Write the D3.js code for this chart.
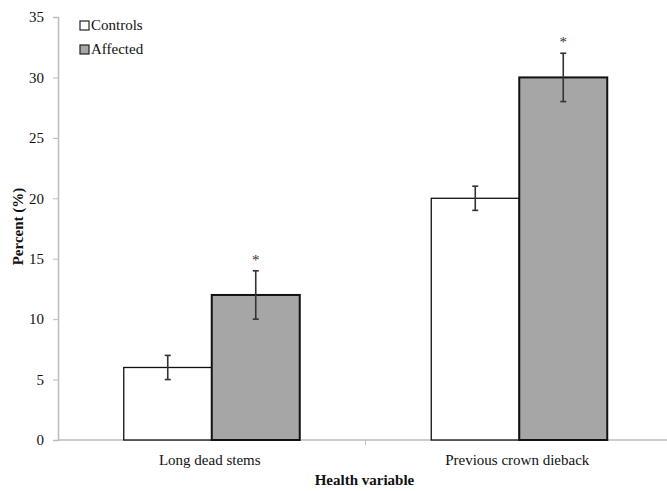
<!DOCTYPE html>
<html>
<head>
<meta charset="utf-8">
<script src="https://cdn.jsdelivr.net/npm/d3@7"></script>
<style>
  body { margin: 0; background: #fff; }
  svg text { font-family: "Times New Roman", "Liberation Serif", "DejaVu Serif", serif !important; }
</style>
</head>
<body>
<div id="Container"></div>
<script>
var categories = ["Long dead stems", "Previous crown dieback"];
var series = ["Controls", "Affected"];
var controls = [6, 20];
var affected = [12, 30];
var controlsErr = [1, 1];
var affectedErr = [2, 2];
var signif = [true, true];   // asterisk above affected bar
var yTicks = [0, 5, 10, 15, 20, 25, 30, 35];

var fills = { Controls: "#ffffff", Affected: "#a6a6a6" };

var margin = { top: 17, right: 0, bottom: 51, left: 58 },
    W = 667, H = 491,
    w = W - margin.left - margin.right,
    h = H - margin.top - margin.bottom;

var canvas = d3.select("#Container").append("svg")
    .attr("width", W)
    .attr("height", H);
var svg = canvas.append("g")
    .attr("transform", "translate(" + margin.left + "," + margin.top + ")");

var x = d3.scaleBand()
    .domain(categories)
    .range([0, w + 6]);
var x1 = d3.scaleBand()
    .domain(series)
    .range([0, 176])
    .padding(0);
var y = d3.scaleLinear()
    .domain([0, 35])
    .range([h, 0]);

var data = categories.map(function (c, i) {
    return {
        cat: c,
        vals: [
            { s: "Controls", v: controls[i], e: controlsErr[i], star: false },
            { s: "Affected", v: affected[i], e: affectedErr[i], star: signif[i] }
        ]
    };
});

// y axis
var yax = svg.append("g")
    .attr("class", "yax")
    .call(d3.axisLeft(y).tickValues(yTicks).tickSize(5).tickPadding(9));
yax.attr("font-family", null);
yax.select(".domain").attr("stroke", "#bdbdbd").attr("stroke-width", 1.5);
yax.selectAll(".tick line").attr("stroke", "#bdbdbd");
yax.selectAll("text").attr("font-size", 15).attr("fill", "#111");

// x axis line + middle tick
svg.append("line")
    .attr("x1", 0).attr("x2", w)
    .attr("y1", h).attr("y2", h)
    .attr("stroke", "#bdbdbd").attr("stroke-width", 1.5);
svg.append("line")
    .attr("x1", x(categories[1])).attr("x2", x(categories[1]))
    .attr("y1", h).attr("y2", h + 5)
    .attr("stroke", "#bdbdbd");

svg.selectAll("xlab").data(categories)
    .enter()
    .append("text")
    .attr("x", function (d) { return x(d) + x.bandwidth() / 2 - 2; })
    .attr("y", h + 25)
    .attr("text-anchor", "middle")
    .attr("font-size", 15)
    .attr("fill", "#111")
    .text(function (d) { return d; });

var groups = svg.selectAll("g.grp").data(data)
    .enter()
    .append("g")
    .attr("class", "grp")
    .attr("transform", function (d) {
        return "translate(" + (x(d.cat) + x.bandwidth() / 2 - 88) + ",0)";
    });

groups.selectAll("rect").data(function (d) { return d.vals; })
    .enter()
    .append("rect")
    .attr("x", function (d) { return x1(d.s); })
    .attr("y", function (d) { return y(d.v); })
    .attr("width", x1.bandwidth())
    .attr("height", function (d) { return h - y(d.v); })
    .attr("fill", function (d) { return fills[d.s]; })
    .attr("stroke", "#111")
    .attr("stroke-width", function (d) { return d.s == "Affected" ? 2 : 1.3; });

// error bars
var eb = groups.selectAll("g.err").data(function (d) { return d.vals; })
    .enter()
    .append("g")
    .attr("class", "err")
    .attr("stroke", "#333")
    .attr("stroke-width", 1.6);
eb.append("line")
    .attr("x1", function (d) { return x1(d.s) + x1.bandwidth() / 2; })
    .attr("x2", function (d) { return x1(d.s) + x1.bandwidth() / 2; })
    .attr("y1", function (d) { return y(d.v - d.e); })
    .attr("y2", function (d) { return y(d.v + d.e); });
eb.selectAll("cap").data(function (d) { return [d.v - d.e, d.v + d.e].map(function (t) { return { s: d.s, t: t }; }); })
    .enter()
    .append("line")
    .attr("x1", function (d) { return x1(d.s) + x1.bandwidth() / 2 - 3; })
    .attr("x2", function (d) { return x1(d.s) + x1.bandwidth() / 2 + 3; })
    .attr("y1", function (d) { return y(d.t); })
    .attr("y2", function (d) { return y(d.t); });

// asterisks
groups.selectAll("text.star").data(function (d) { return d.vals.filter(function (v) { return v.star; }); })
    .enter()
    .append("text")
    .attr("class", "star")
    .attr("x", function (d) { return x1(d.s) + x1.bandwidth() / 2; })
    .attr("y", function (d) { return y(d.v + d.e) - 6; })
    .attr("text-anchor", "middle")
    .attr("font-size", 15)
    .attr("fill", "#333")
    .text("*");

// axis titles
canvas.append("text")
    .attr("transform", "translate(23," + (margin.top + h / 2 - 2) + ") rotate(-90)")
    .attr("text-anchor", "middle")
    .attr("font-size", 15)
    .attr("font-weight", "bold")
    .attr("fill", "#111")
    .text("Percent (%)");
canvas.append("text")
    .attr("x", margin.left + w / 2 + 2)
    .attr("y", 485)
    .attr("text-anchor", "middle")
    .attr("font-size", 15)
    .attr("font-weight", "bold")
    .attr("fill", "#111")
    .text("Health variable");

// legend
var leg = canvas.selectAll("g.leg").data(series)
    .enter()
    .append("g")
    .attr("class", "leg")
    .attr("transform", function (d, i) { return "translate(80," + (21 + i * 24) + ")"; });
leg.append("rect")
    .attr("x", 0).attr("y", 0)
    .attr("width", 9).attr("height", 9)
    .attr("fill", function (d) { return fills[d]; })
    .attr("stroke", "#222")
    .attr("stroke-width", 1.2);
leg.append("text")
    .attr("x", 11)
    .attr("y", 9)
    .attr("font-size", 15)
    .attr("fill", "#111")
    .text(function (d) { return d; });
</script>
</body>
</html>
